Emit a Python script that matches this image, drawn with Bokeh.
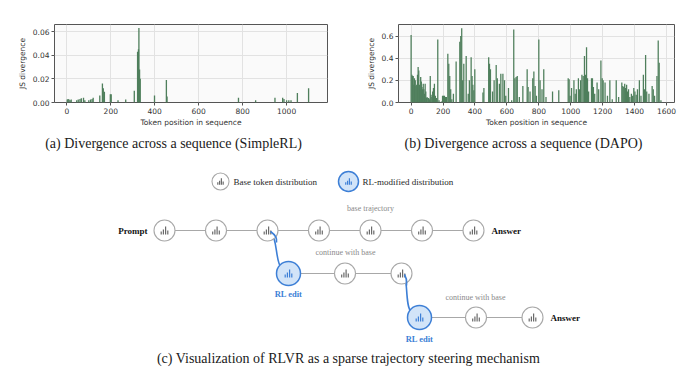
from bokeh.plotting import figure
from bokeh.layouts import column, row
from bokeh.models import Range1d, FixedTicker, PrintfTickFormatter
from bokeh.core.properties import value
from bokeh.embed import file_html
from bokeh.resources import INLINE

# ---------------- data ----------------
simplerl_pos = [2, 6, 10, 15, 20, 45, 52, 60, 66, 76, 82, 100, 108, 115, 120, 150, 162, 166, 171,
                198, 202, 233, 268, 307, 322, 326, 328, 331, 334, 399, 453, 456, 580, 781, 859,
                947, 982, 988, 1000, 1010, 1020, 1049, 1100]
simplerl_js = [0.0025, 0.003, 0.0025, 0.002, 0.0025, 0.002, 0.0025, 0.003, 0.0035, 0.004, 0.002,
               0.002, 0.0025, 0.003, 0.004, 0.006, 0.016, 0.012, 0.009, 0.007, 0.007, 0.002,
               0.0025, 0.010, 0.043, 0.045, 0.063, 0.028, 0.020, 0.006, 0.019, 0.005, 0.0005,
               0.004, 0.002, 0.004, 0.004, 0.003, 0.002, 0.002, 0.002, 0.008, 0.012]

dapo_bars = [(0, 0.61), (5, 0.25), (9, 0.24), (13, 0.24), (17, 0.16), (21, 0.22), (26, 0.20),
             (30, 0.15), (35, 0.16), (40, 0.25), (44, 0.32), (48, 0.29), (52, 0.16), (56, 0.12),
             (60, 0.23), (64, 0.19), (68, 0.14), (72, 0.12), (76, 0.17), (80, 0.12), (84, 0.08),
             (88, 0.17), (92, 0.10), (96, 0.04), (100, 0.05), (105, 0.04), (110, 0.04), (115, 0.03),
             (120, 0.24), (125, 0.07), (130, 0.05), (135, 0.10), (140, 0.13), (146, 0.17), (152, 0.06),
             (160, 0.04), (167, 0.57), (175, 0.02), (190, 0.01), (197, 0.06), (203, 0.06), (209, 0.06),
             (215, 0.05), (221, 0.05), (230, 0.44), (236, 0.35), (242, 0.24), (248, 0.12), (255, 0.03),
             (265, 0.08), (282, 0.37), (305, 0.55), (311, 0.60), (317, 0.67), (323, 0.20), (330, 0.35),
             (345, 0.42), (358, 0.08), (365, 0.20), (376, 0.41), (382, 0.24), (387, 0.16), (393, 0.11),
             (399, 0.30), (450, 0.09), (456, 0.13), (486, 0.41), (491, 0.35), (497, 0.30), (510, 0.10),
             (520, 0.20), (533, 0.34), (540, 0.22), (553, 0.17), (562, 0.26), (575, 0.26), (585, 0.20),
             (593, 0.06), (610, 0.13), (630, 0.02), (643, 0.66), (650, 0.22), (658, 0.23), (665, 0.24),
             (678, 0.05), (700, 0.15), (727, 0.30), (733, 0.14), (745, 0.10), (762, 0.22), (769, 0.28),
             (777, 0.15), (785, 0.06), (800, 0.57), (808, 0.20), (820, 0.12), (831, 0.30), (845, 0.05),
             (886, 0.10), (925, 0.11), (984, 0.22), (990, 0.21), (996, 0.06), (1005, 0.13), (1020, 0.20),
             (1028, 0.08), (1035, 0.12), (1048, 0.22), (1055, 0.12), (1062, 0.20), (1070, 0.25),
             (1078, 0.24), (1086, 0.42), (1093, 0.25), (1099, 0.50), (1105, 0.22), (1112, 0.10),
             (1130, 0.22), (1136, 0.22), (1142, 0.14), (1150, 0.08), (1165, 0.18), (1175, 0.12),
             (1189, 0.38), (1197, 0.22), (1203, 0.20), (1215, 0.18), (1230, 0.06), (1245, 0.20),
             (1260, 0.03), (1285, 0.20), (1300, 0.05), (1320, 0.18), (1326, 0.15), (1332, 0.14),
             (1338, 0.17), (1344, 0.13), (1350, 0.16), (1356, 0.10), (1362, 0.12), (1370, 0.05),
             (1380, 0.08), (1388, 0.06), (1395, 0.13), (1402, 0.10), (1410, 0.07), (1418, 0.12),
             (1430, 0.20), (1440, 0.06), (1455, 0.25), (1462, 0.12), (1469, 0.43), (1476, 0.10),
             (1490, 0.08), (1510, 0.15), (1517, 0.12), (1525, 0.06), (1540, 0.24), (1548, 0.56),
             (1554, 0.36), (1565, 0.02)]
dapo_pos = [b[0] for b in dapo_bars]
dapo_js = [b[1] for b in dapo_bars]

simplerl_xticks = [0, 200, 400, 600, 800, 1000]
simplerl_yticks = [0.0, 0.02, 0.04, 0.06]
dapo_xticks = [0, 200, 400, 600, 800, 1000, 1200, 1400, 1600]
dapo_yticks = [0.0, 0.2, 0.4, 0.6]

captions = ["(a) Divergence across a sequence (SimpleRL)",
            "(b) Divergence across a sequence (DAPO)",
            "(c) Visualization of RLVR as a sparse trajectory steering mechanism"]

legend_labels = ["Base token distribution", "RL-modified distribution"]
icon_heights = [3, 5, 8, 4]

BAR = "#4f7f5c"
BLUE = "#3d7fd6"
BLUE_FILL = "#d2e4f8"
GRAY_LINE = "#a8a8a8"
ICON_GRAY = "#6a6a6a"


def bar_fig(width, bl, br, xs, ys, xr, yr, xticks, yticks, fmt, bw):
    p = figure(width=width, height=134, output_backend="svg", toolbar_location=None, tools="",
               x_range=Range1d(*xr), y_range=Range1d(*yr),
               min_border_left=bl, min_border_right=br, min_border_top=24, min_border_bottom=32)
    p.background_fill_color = "#fafafa"
    p.outline_line_color = "#555555"
    p.outline_line_width = 1
    p.grid.grid_line_color = "#e2e2e2"
    p.vbar(x=xs, top=ys, bottom=0, width=bw, fill_color=BAR, line_color=None)
    p.xaxis.ticker = FixedTicker(ticks=xticks)
    p.yaxis.ticker = FixedTicker(ticks=yticks)
    p.yaxis.formatter = PrintfTickFormatter(format=fmt)
    for ax in (p.xaxis[0], p.yaxis[0]):
        ax.axis_line_color = None
        ax.minor_tick_line_color = None
        ax.major_tick_in = 0
        ax.major_tick_out = 3
        ax.major_tick_line_color = "#555555"
        ax.major_label_text_font = "DejaVu Sans"
        ax.major_label_text_font_size = "7.5px"
        ax.major_label_text_color = "#333333"
        ax.major_label_standoff = 2
        ax.axis_label_text_font = "DejaVu Sans"
        ax.axis_label_text_font_size = "7.5px"
        ax.axis_label_text_font_style = "normal"
        ax.axis_label_text_color = "#333333"
        ax.axis_label_standoff = 3
    p.xaxis.axis_label_standoff = 1
    p.xaxis.axis_label = "Token position in sequence"
    p.yaxis.axis_label = "JS divergence"
    return p


fa = bar_fig(340, 54, 13, simplerl_pos, simplerl_js, (-56, 1186), (0, 0.066),
             simplerl_xticks, simplerl_yticks, "%.2f", 6)
fb = bar_fig(349, 58, 15, dapo_pos, dapo_js, (-79, 1650), (0, 0.705),
             dapo_xticks, dapo_yticks, "%.1f", 8)

# ---------------- diagram ----------------
fc = figure(width=689, height=248, output_backend="svg", toolbar_location=None, tools="",
            x_range=Range1d(0, 689), y_range=Range1d(382, 134),
            min_border_left=0, min_border_right=0, min_border_top=0, min_border_bottom=0)
fc.axis.visible = False
fc.grid.visible = False
fc.outline_line_color = None

serif = value("Liberation Serif")

# captions
fc.text(x=[173, 523, 348], y=[143, 143, 358], text=captions, text_font=serif,
        text_font_size="14px", text_color="#1a1a1a", text_align="center", text_baseline="middle")

# node layout
row1_x = [164 + 51.5 * i for i in range(7)]
row1_y = 230
row2_x = [288 + 56.5 * i for i in range(3)]
row2_y = 273
row3_x = [419 + 56.5 * i for i in range(3)]
row3_y = 317

# connecting lines
for xs, y in ((row1_x, row1_y), (row2_x, row2_y), (row3_x, row3_y)):
    fc.line(x=[xs[0], xs[-1]], y=[y, y], line_color=GRAY_LINE, line_width=1.2)


def icon(cx, cy, color, scale=1.0):
    offs = [-3.3, -1.1, 1.1, 3.3]
    lefts = [cx + o * scale - 0.6 for o in offs]
    rights = [cx + o * scale + 0.6 for o in offs]
    bottoms = [cy + 4 * scale] * 4
    tops = [cy + 4 * scale - h * scale for h in icon_heights]
    fc.quad(left=lefts, right=rights, bottom=bottoms, top=tops, fill_color=color, line_color=None)


def gray_node(cx, cy, size=21):
    fc.scatter(x=[cx], y=[cy], size=size, marker="circle", fill_color="white",
               line_color=GRAY_LINE, line_width=1.1)
    icon(cx, cy, ICON_GRAY, size / 21)


def blue_node(cx, cy, size=24):
    fc.scatter(x=[cx], y=[cy], size=size, marker="circle", fill_color=BLUE_FILL,
               line_color=BLUE, line_width=1.5)
    icon(cx, cy, BLUE, size / 24)


# legend
gray_node(220, 181, 17)
blue_node(348, 181, 20)
fc.text(x=[233, 362], y=[181, 181], text=legend_labels, text_font=serif, text_font_size="9px",
        text_color="#1f1f1f", text_align="left", text_baseline="middle")

# blue steering curves
fc.bezier(x0=[270, 404], y0=[231, 274], x1=[281, 411], y1=[267, 311],
          cx0=[277, 407], cy0=[236, 279], cx1=[275, 405], cy1=[264, 309],
          line_color=BLUE, line_width=1.6)

for x in row1_x:
    gray_node(x, row1_y)
blue_node(row2_x[0], row2_y)
for x in row2_x[1:]:
    gray_node(x, row2_y)
blue_node(row3_x[0], row3_y)
for x in row3_x[1:]:
    gray_node(x, row3_y)

# re-draw start of curves over source nodes
fc.bezier(x0=[270, 404], y0=[231, 274], x1=[276, 406], y1=[242, 285],
          cx0=[277, 407], cy0=[236, 279], cx1=[276, 406], cy1=[239, 282],
          line_color=BLUE, line_width=1.6)

# labels
fc.text(x=[147], y=[row1_y], text=["Prompt"], text_font=serif, text_font_size="9px",
        text_font_style="bold", text_color="#111111", text_align="right", text_baseline="middle")
fc.text(x=[491, 550], y=[row1_y, row3_y], text=["Answer", "Answer"], text_font=serif,
        text_font_size="9px", text_font_style="bold", text_color="#111111",
        text_align="left", text_baseline="middle")
fc.text(x=[370], y=[208], text=["base trajectory"], text_font=serif, text_font_size="8px",
        text_color="#8a8a8a", text_align="center", text_baseline="middle")
fc.text(x=[345, 475], y=[252, 297], text=["continue with base", "continue with base"],
        text_font=serif, text_font_size="8px", text_color="#8a8a8a",
        text_align="center", text_baseline="middle")
fc.text(x=[row2_x[0], row3_x[0]], y=[293, 338], text=["RL edit", "RL edit"], text_font=serif,
        text_font_size="8.5px", text_font_style="bold", text_color=BLUE,
        text_align="center", text_baseline="middle")

layout = column(row(fa, fb), fc)
open("out.html", "w").write(file_html(layout, INLINE))
